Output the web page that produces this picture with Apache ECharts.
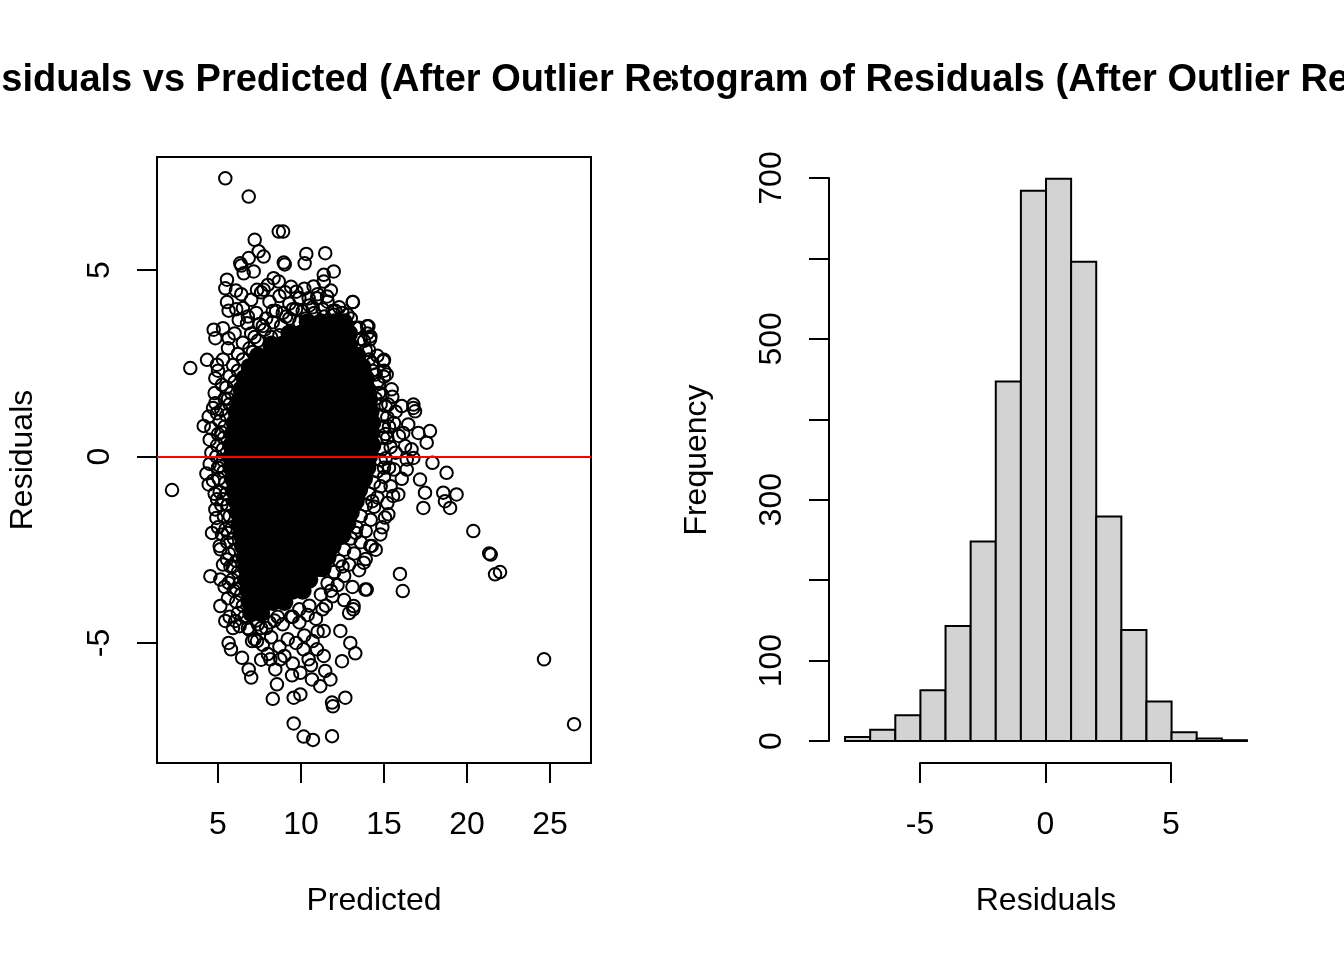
<!DOCTYPE html>
<html>
<head>
<meta charset="utf-8">
<script src="https://cdn.jsdelivr.net/npm/echarts@6/dist/echarts.min.js"></script>
<style>
	html, body { margin: 0; padding: 0; background: #fff; }
	#main { width: 1344px; height: 960px; }
</style>
</head>
<body>
<div id="main"></div>
<script>
// titles (each is clipped to its own half of the figure, as R does)
var leftTitle = 'Residuals vs Predicted (After Outlier Removal)';
var rightTitle = 'Histogram of Residuals (After Outlier Removal)';

// scatter: dense core of the cloud, read row by row (residual level -> predicted values)
var denseRowY = [3.6, 3.3, 3.0, 2.7, 2.4, 2.1, 1.8, 1.5, 1.2, 0.9, 0.6, 0.3, 0.0, -0.3, -0.6, -0.9,
	-1.2, -1.5, -1.8, -2.1, -2.4, -2.7, -3.0, -3.3, -3.6, -3.9, -4.2];
var denseRowX = [
	[10.4, 11.2, 12.0, 12.6],
	[9.3, 10.0, 10.8, 11.6, 12.4, 12.9],
	[8.2, 8.9, 9.7, 10.5, 11.3, 12.1, 12.9],
	[7.4, 8.2, 9.0, 9.8, 10.6, 11.4, 12.2, 13.0, 13.4],
	[6.9, 7.6, 8.4, 9.2, 10.0, 10.8, 11.6, 12.4, 13.2, 13.7],
	[6.6, 7.3, 8.1, 8.9, 9.7, 10.5, 11.3, 12.1, 12.9, 13.6, 13.9],
	[6.4, 7.0, 7.8, 8.6, 9.4, 10.2, 11.0, 11.8, 12.6, 13.4, 14.0],
	[6.3, 7.1, 7.9, 8.7, 9.5, 10.3, 11.1, 11.9, 12.7, 13.5, 14.1],
	[6.1, 6.8, 7.6, 8.4, 9.2, 10.0, 10.8, 11.6, 12.4, 13.2, 14.0, 14.2],
	[6.0, 6.7, 7.5, 8.3, 9.1, 9.9, 10.7, 11.5, 12.3, 13.1, 13.9, 14.3],
	[5.9, 6.4, 7.1, 7.9, 8.7, 9.5, 10.3, 11.1, 11.9, 12.7, 13.5, 14.2],
	[5.8, 6.7, 7.5, 8.3, 9.1, 9.9, 10.7, 11.5, 12.3, 13.1, 13.9, 14.3],
	[5.8, 6.3, 7.1, 7.9, 8.7, 9.5, 10.3, 11.1, 11.9, 12.7, 13.5, 14.1],
	[5.8, 6.7, 7.5, 8.3, 9.1, 9.9, 10.7, 11.5, 12.3, 13.1, 13.7, 14.0],
	[5.9, 6.4, 7.1, 7.9, 8.7, 9.5, 10.3, 11.1, 11.9, 12.7, 13.4, 13.8],
	[6.0, 6.7, 7.5, 8.3, 9.1, 9.9, 10.7, 11.5, 12.3, 13.0, 13.5],
	[6.1, 6.9, 7.8, 8.6, 9.4, 10.2, 11.0, 11.8, 12.6, 13.3],
	[6.2, 6.8, 7.5, 8.3, 9.1, 9.9, 10.7, 11.5, 12.3, 13.0],
	[6.3, 7.1, 7.9, 8.7, 9.5, 10.3, 11.1, 11.9, 12.5, 12.8],
	[6.4, 7.0, 7.6, 8.4, 9.2, 10.0, 10.8, 11.6, 12.2, 12.5],
	[6.5, 7.2, 8.0, 8.8, 9.6, 10.4, 11.2, 11.9],
	[6.6, 7.5, 8.3, 9.1, 9.9, 10.7, 11.3, 11.6],
	[6.7, 7.2, 7.9, 8.7, 9.5, 10.3, 10.9, 11.3],
	[6.7, 7.5, 8.3, 9.1, 9.8, 10.5],
	[6.8, 7.3, 8.0, 8.8, 9.5, 10.1],
	[6.9, 7.6, 8.3, 9.0],
	[7.0, 7.6]
];

// scatter: single circles along the edge of the cloud [predicted, residual]
var edgePoints = [
	[6.4,4.35],[7.0,4.2],[7.6,4.4],[8.1,4.15],[8.7,4.3],[9.3,4.1],[9.9,4.25],[10.5,4.05],[11.0,4.35],
	[11.6,4.15],[12.3,4.0],[12.8,3.8],[7.3,3.85],[7.9,3.7],[8.5,3.9],[9.1,3.75],[9.7,3.95],[10.3,3.7],
	[10.8,3.85],[11.4,3.75],[12.0,3.8],[6.8,3.75],[6.1,3.95],[8.0,4.6],[9.4,4.55],[10.2,4.5],[11.8,4.45],
	[13.5,3.45],[13.8,3.1],[14.1,2.85],[14.3,2.5],[14.5,2.2],[14.7,1.95],[14.9,1.65],[15.1,1.35],[15.2,1.05],
	[15.3,0.8],[15.2,0.5],[15.4,0.25],[15.1,-0.05],[15.3,-0.3],[15.0,-0.55],[14.8,-0.8],[14.6,-1.1],
	[14.4,-1.35],[14.2,-1.7],[13.9,-2.0],[13.6,-2.3],[13.2,-2.6],[12.9,-2.9],[12.6,-3.2],[12.2,-3.45],
	[11.9,-3.75],[11.5,-4.0],[14.0,3.3],[14.6,2.7],[15.0,2.3],[15.5,1.6],[15.7,1.2],[15.6,0.9],[15.9,0.55],
	[15.7,0.1],[15.6,-0.35],[15.4,-0.8],[15.2,-1.25],[14.9,-1.9],[14.5,-2.5],[13.9,-2.75],[13.5,-3.05],
	[13.1,-3.5],[12.6,-3.85],[12.9,-4.2],
	[7.5,3.55],[7.0,3.3],[6.5,3.05],[6.2,2.75],[5.9,2.45],[5.7,2.15],[5.5,1.85],[5.4,1.55],[5.2,1.25],
	[5.1,0.95],[5.0,0.6],[4.95,0.3],[4.9,0.0],[5.0,-0.3],[5.05,-0.6],[5.1,-0.95],[5.2,-1.3],[5.35,-1.6],
	[5.45,-1.95],[5.55,-2.3],[5.65,-2.6],[5.75,-2.95],[5.85,-3.3],[5.95,-3.6],[6.1,-3.9],[6.2,-4.2],
	[6.3,-4.55],[6.0,3.3],[5.6,2.9],[5.3,2.6],[5.0,2.3],[4.8,1.7],[4.7,1.3],[4.6,0.75],[4.5,0.45],
	[4.6,0.1],[4.5,-0.2],[4.7,-0.65],[4.8,-1.0],[4.9,-1.65],[5.0,-1.9],[5.1,-2.4],[5.3,-2.9],[5.4,-3.5],
	[5.6,-3.8],[5.7,-4.3],[5.9,-4.6],
	[6.9,-4.65],[7.4,-4.5],[7.9,-4.6],[8.4,-4.4],[8.9,-4.5],[9.4,-4.3],[9.9,-4.45],[10.4,-4.25],
	[10.9,-4.35],[11.3,-4.1],[7.2,-4.9],[7.7,-5.05],[8.2,-4.85],[8.7,-5.1],[9.2,-4.9],[9.7,-5.0],
	[10.2,-4.8],[10.7,-4.95],[8.0,-5.3],[9.0,-5.35],[9.5,-5.55],[10.6,-5.6],[7.6,-5.45],[11.0,-4.7]
];

// scatter: circles sitting on the border of the black core [predicted, residual]
var borderPoints = [
	[8.3,3.9],[8.9,3.85],[9.5,3.95],[10.1,3.9],[10.7,4.0],[11.3,3.95],[11.9,3.9],[12.5,3.85],[13.0,3.7],
	[7.8,3.4],[8.3,3.6],[8.8,3.5],[9.3,3.7],[9.9,3.6],[7.4,3.1],[8.2,3.2],[8.7,3.25],[7.1,2.8],
	[7.7,3.5],[13.3,3.45],[7.2,3.2],[13.6,3.15],[6.9,2.9],[13.9,2.85],[6.5,2.6],[14.1,2.6],[6.2,2.3],[14.3,2.3],
	[6.0,2.0],[14.6,2.0],[5.8,1.7],[14.7,1.7],[5.7,1.4],[14.8,1.4],[5.5,1.1],[14.9,1.1],[5.4,0.8],[15.0,0.8],
	[5.35,0.5],[14.95,0.5],[5.3,0.2],[14.9,0.2],[5.3,-0.1],[14.8,-0.1],[5.35,-0.4],[14.6,-0.4],[5.45,-0.7],
	[14.4,-0.7],[5.5,-1.0],[14.1,-1.0],[5.6,-1.3],[13.9,-1.3],[5.7,-1.6],[13.6,-1.6],[5.85,-1.9],[13.35,-1.9],
	[5.95,-2.2],[13.0,-2.2],[6.0,-2.5],[12.6,-2.5],[6.1,-2.8],[12.3,-2.8],[6.2,-3.1],[12.0,-3.1],[6.3,-3.4],
	[11.6,-3.4],[6.4,-3.7],[11.2,-3.7],[6.5,-4.0],[10.5,-4.0],[6.6,-4.3],[9.5,-4.3],[8.6,-4.3],[6.8,-4.6],[7.6,-4.6],
	[5.6,1.55],[14.5,1.55],[5.2,0.65],[15.1,0.6],[5.1,-0.25],[15.0,-0.3],[5.3,-1.15],[14.3,-1.2],[5.6,-2.05],
	[13.3,-2.05],[5.9,-2.95],[12.5,-2.95],[6.1,-3.55],[11.8,-3.6],[9.9,-4.1],[8.1,-4.45],[7.3,-4.4]
];

// scatter: scattered points away from the cloud [predicted, residual]
var outlierPoints = [
	[5.44,7.46],[6.85,6.97],[8.66,6.03],[8.92,6.03],[7.21,5.81],[7.45,5.5],[7.75,5.36],[6.34,5.18],
	[6.4,5.12],[6.85,5.32],[8.96,5.2],[9.02,5.15],[10.32,5.43],[10.22,5.18],[11.46,5.45],[11.97,4.96],
	[11.37,4.87],[11.37,4.69],[6.55,4.91],[7.15,4.96],[8.35,4.78],[8.66,4.69],[5.54,4.74],[5.44,4.51],
	[6.08,4.45],[13.13,4.14],[5.54,4.14],[5.64,3.91],[6.5,3.98],[7.75,4.47],[7.35,4.47],[9.05,4.4],
	[9.72,4.42],[10.46,4.24],[10.96,4.24],[11.57,4.29],[10.76,4.56],[12.06,3.91],[13.98,3.49],[14.18,3.22],
	[4.74,3.4],[4.84,3.17],[5.3,3.44],[5.64,3.17],[6.25,3.66],[6.75,3.57],[4.34,2.59],[3.33,2.37],
	[4.94,2.46],[4.84,2.1],[5.24,1.92],[4.84,1.43],[4.94,1.16],[4.44,1.07],[4.14,0.82],[15.0,2.59],[15.0,2.14],
	[2.23,-0.9],[4.3,-0.46],[4.44,-0.75],[4.84,-1.42],[4.94,-1.15],[4.64,-2.05],[5.24,-2.09],[5.14,-2.49],
	[5.54,-2.76],[4.54,-3.21],[5.14,-3.3],[5.64,-3.39],[5.14,-4.01],[5.44,-4.41],[6.04,-4.41],[5.64,-5.0],
	[5.78,-5.17],[6.45,-5.4],[6.85,-5.71],[7.0,-5.93],[7.05,-4.95],[7.35,-4.95],[8.15,-5.44],[8.75,-5.44],
	[8.45,-5.71],[8.55,-6.11],[8.3,-6.5],[9.46,-5.87],[9.96,-5.8],[9.56,-6.47],[9.96,-6.38],[10.15,-5.17],
	[10.96,-5.17],[11.37,-5.35],[10.46,-5.44],[10.66,-5.98],[11.16,-6.16],[11.77,-5.98],[11.46,-5.75],
	[11.87,-6.6],[11.92,-6.7],[12.67,-6.47],[9.56,-7.16],[10.16,-7.51],[10.72,-7.6],[11.87,-7.5],
	[11.37,-4.68],[12.37,-4.68],[12.97,-5.0],[13.27,-5.28],[12.47,-5.49],[13.17,-4.01],[13.87,-3.57],
	[13.78,-2.85],[14.18,-2.4],[14.78,-2.09],
	[13.11,4.14],[14.06,3.49],[14.16,3.14],[14.96,2.56],[15.16,2.2],[15.46,1.8],[15.26,1.39],[16.07,1.35],
	[16.77,1.39],[16.87,1.21],[16.77,1.3],[16.46,0.86],[17.77,0.68],[17.57,0.37],[17.07,0.63],[16.16,0.63],
	[16.66,0.19],[16.27,0.28],[16.77,-0.04],[16.37,-0.08],[17.92,-0.17],[18.77,-0.44],[16.37,-0.35],
	[16.07,-0.6],[17.17,-0.62],[17.47,-0.97],[17.37,-1.38],[18.57,-0.97],[19.37,-1.02],[18.67,-1.2],
	[18.98,-1.38],[15.55,-1.06],[15.86,-1.02],[15.26,-1.55],[15.06,-1.64],[20.38,-2.0],[21.34,-2.6],
	[21.43,-2.63],[21.69,-3.16],[21.99,-3.1],[15.96,-3.15],[16.13,-3.61],[14.26,-2.4],[13.96,-3.57],
	[13.15,-4.1],[24.64,-5.44],[26.45,-7.18]
];

// histogram
var binEdges = [-8, -7, -6, -5, -4, -3, -2, -1, 0, 1, 2, 3, 4, 5, 6, 7, 8];
var binCounts = [5, 14, 32, 63, 143, 248, 447, 684, 699, 596, 279, 138, 49, 11, 3, 1];
var histYLabels = [0, 100, 300, 500, 700];

var densePoints = [];
denseRowY.forEach(function(y, i) {
	denseRowX[i].forEach(function(x) { densePoints.push([x, y]); });
});
var histData = binCounts.map(function(c, i) { return [binEdges[i], binEdges[i + 1], c]; });

var FONT = 'Liberation Sans, Arial, sans-serif';
var hidden = { type: 'value', show: false, min: 0, max: 1 };
var tickStyle = { show: true, inside: false, length: 20, lineStyle: { color: '#000', width: 2 } };
var labelStyle = { color: '#000', fontSize: 32, fontFamily: FONT };
var nameStyle = { color: '#000', fontSize: 32, fontFamily: FONT };

function titleItem(text, cx) {
	return function() {
		return {
			type: 'text', x: cx, y: 81,
			style: { text: text, fill: '#000', fontSize: 38, fontWeight: 'bold', fontFamily: FONT,
				align: 'center', textAlign: 'center', verticalAlign: 'middle' }
		};
	};
}

var option = {
	animation: false,
	backgroundColor: '#fff',
	grid: [
		{ left: 157, top: 157, width: 434, height: 606, show: true, borderColor: '#000', borderWidth: 2, backgroundColor: 'transparent' },
		{ left: 218, top: 157, width: 332, height: 606 },
		{ left: 157, top: 270, width: 434, height: 373 },
		{ left: 829, top: 157, width: 434, height: 606 },
		{ left: 920, top: 157, width: 251, height: 606 },
		{ left: 829, top: 178, width: 434, height: 563 },
		{ left: 0, top: 0, width: 672, height: 150 },
		{ left: 672, top: 0, width: 672, height: 150 }
	],
	xAxis: [
		{ gridIndex: 0, type: 'value', min: 1.325, max: 27.47, name: 'Predicted', nameLocation: 'middle', nameGap: 122,
			nameTextStyle: nameStyle, axisLine: { show: false }, axisTick: { show: false }, axisLabel: { show: false }, splitLine: { show: false } },
		{ gridIndex: 1, type: 'value', min: 5, max: 25, interval: 5, axisLine: { show: false }, axisTick: tickStyle,
			axisLabel: Object.assign({ margin: 46 }, labelStyle), splitLine: { show: false } },
		Object.assign({ gridIndex: 2 }, hidden),
		{ gridIndex: 3, type: 'value', min: -8.64, max: 8.64, name: 'Residuals', nameLocation: 'middle', nameGap: 122,
			nameTextStyle: nameStyle, axisLine: { show: false }, axisTick: { show: false }, axisLabel: { show: false }, splitLine: { show: false } },
		{ gridIndex: 4, type: 'value', min: -5, max: 5, interval: 5, axisLine: { show: true, lineStyle: { color: '#000', width: 2 } },
			axisTick: tickStyle, axisLabel: Object.assign({ margin: 46 }, labelStyle), splitLine: { show: false } },
		Object.assign({ gridIndex: 5 }, hidden),
		Object.assign({ gridIndex: 6 }, hidden),
		Object.assign({ gridIndex: 7 }, hidden)
	],
	yAxis: [
		{ gridIndex: 0, type: 'value', min: -8.22, max: 8.03, name: 'Residuals', nameLocation: 'middle', nameGap: 118,
			nameTextStyle: nameStyle, axisLine: { show: false }, axisTick: { show: false }, axisLabel: { show: false }, splitLine: { show: false } },
		Object.assign({ gridIndex: 1 }, hidden),
		{ gridIndex: 2, type: 'value', min: -5, max: 5, interval: 5, axisLine: { show: false }, axisTick: tickStyle,
			axisLabel: Object.assign({ margin: 41, rotate: 90 }, labelStyle), splitLine: { show: false } },
		{ gridIndex: 3, type: 'value', min: -27.35, max: 726.1, name: 'Frequency', nameLocation: 'middle', nameGap: 116,
			nameTextStyle: nameStyle, axisLine: { show: false }, axisTick: { show: false }, axisLabel: { show: false }, splitLine: { show: false } },
		Object.assign({ gridIndex: 4 }, hidden),
		{ gridIndex: 5, type: 'value', min: 0, max: 700, interval: 100, axisLine: { show: true, lineStyle: { color: '#000', width: 2 } },
			axisTick: tickStyle, splitLine: { show: false },
			axisLabel: Object.assign({ margin: 41, rotate: 90, showMinLabel: true, showMaxLabel: true,
				formatter: function(v) { return histYLabels.indexOf(v) >= 0 ? String(v) : ''; } }, labelStyle) },
		Object.assign({ gridIndex: 6 }, hidden),
		Object.assign({ gridIndex: 7 }, hidden)
	],
	series: [
		{
			type: 'scatter', xAxisIndex: 0, yAxisIndex: 0, data: densePoints,
			symbol: 'circle', symbolSize: 18, itemStyle: { color: '#000', opacity: 1 }, silent: true
		},
		{
			type: 'scatter', xAxisIndex: 0, yAxisIndex: 0, data: borderPoints.concat(edgePoints, outlierPoints),
			symbol: 'circle', symbolSize: 12.5,
			itemStyle: { color: 'rgba(0,0,0,0)', borderColor: '#000', borderWidth: 2, opacity: 1 }, silent: true
		},
		{
			type: 'scatter', xAxisIndex: 0, yAxisIndex: 0, data: [], z: 10, silent: true,
			markLine: { silent: true, symbol: ['none', 'none'], label: { show: false },
				lineStyle: { color: '#FF0000', width: 2, type: 'solid' }, data: [{ yAxis: 0 }] }
		},
		{
			type: 'custom', xAxisIndex: 3, yAxisIndex: 3, data: histData, silent: true,
			encode: { x: [0, 1], y: 2 },
			renderItem: function(params, api) {
				var p0 = api.coord([api.value(0), api.value(2)]);
				var p1 = api.coord([api.value(1), 0]);
				return {
					type: 'rect',
					shape: { x: p0[0], y: p0[1], width: p1[0] - p0[0], height: p1[1] - p0[1] },
					style: { fill: '#D3D3D3', stroke: '#000', lineWidth: 2 }
				};
			}
		},
		{ type: 'custom', xAxisIndex: 6, yAxisIndex: 6, clip: true, silent: true, data: [[0.5, 0.5]], renderItem: titleItem(leftTitle, 374) },
		{ type: 'custom', xAxisIndex: 7, yAxisIndex: 7, clip: true, silent: true, data: [[0.5, 0.5]], renderItem: titleItem(rightTitle, 1046) }
	]
};

var chart = echarts.init(document.getElementById('main'));
chart.setOption(option);
</script>
</body>
</html>
